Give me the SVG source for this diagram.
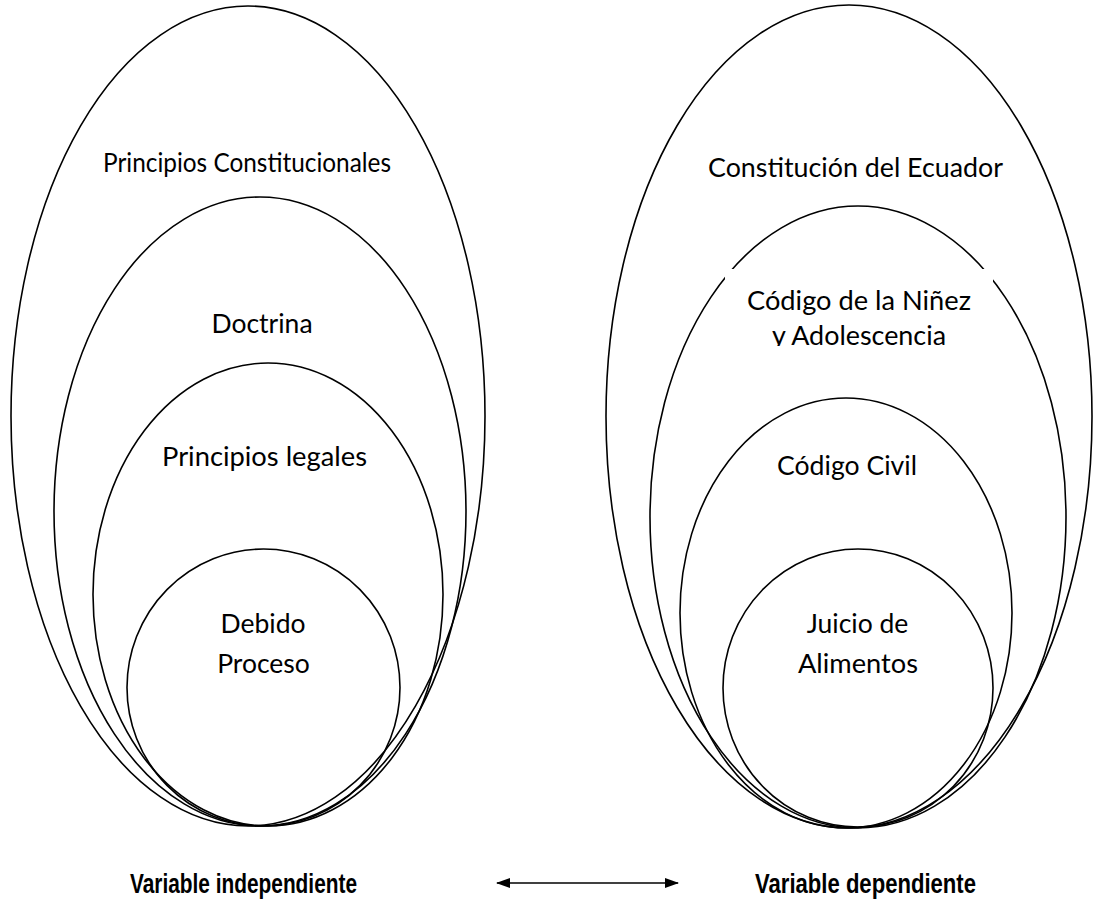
<svg xmlns="http://www.w3.org/2000/svg" width="1111" height="924" viewBox="0 0 1111 924">
<defs>
<style>
.el{fill:none;stroke:#000;stroke-width:1.6}
.t{font-family:Lato,"Liberation Sans",sans-serif;font-size:26.5px;fill:#000;text-anchor:middle}
.b{font-family:"Liberation Sans",Arial,sans-serif;font-size:28px;font-weight:bold;fill:#000;text-anchor:middle}
</style>
<marker id="ah" viewBox="0 0 14 10" refX="13" refY="5" markerWidth="14" markerHeight="10" markerUnits="userSpaceOnUse" orient="auto-start-reverse">
<path d="M0,0 L14,5 L0,10 z" fill="#000"/>
</marker>
<clipPath id="boxclip"><rect x="725" y="269" width="268" height="77"/></clipPath>
</defs>
<rect width="1111" height="924" fill="#fff"/>
<g id="left-group">
<g id="principios-constitucionales">
<ellipse class="el" cx="248" cy="416" rx="237" ry="410"/>
<text class="t" x="247" y="172" textLength="288" lengthAdjust="spacingAndGlyphs">Principios Constitucionales</text>
</g>
<g id="doctrina">
<ellipse class="el" cx="260" cy="511.5" rx="206" ry="314.5"/>
<text class="t" x="262" y="333">Doctrina</text>
</g>
<g id="principios-legales">
<ellipse class="el" cx="268" cy="594.5" rx="175" ry="231.5"/>
<text class="t" x="264.5" y="466" textLength="205" lengthAdjust="spacingAndGlyphs">Principios legales</text>
</g>
<g id="debido-proceso">
<ellipse class="el" cx="263.5" cy="687.5" rx="136.5" ry="138.5"/>
<text class="t" x="263" y="633">Debido</text>
<text class="t" x="263.5" y="673">Proceso</text>
</g>
</g>
<g id="right-group">
<g id="constitucion">
<ellipse class="el" cx="849" cy="416.5" rx="243" ry="411.5"/>
<text class="t" x="855.5" y="177" textLength="295" lengthAdjust="spacingAndGlyphs">Constitución del Ecuador</text>
</g>
<g id="codigo-ninez">
<ellipse class="el" cx="858" cy="517" rx="208" ry="311"/>
<rect x="725" y="269" width="268" height="77" fill="#fff"/>
<g clip-path="url(#boxclip)">
<text class="t" x="859" y="310" textLength="224" lengthAdjust="spacingAndGlyphs">Código de la Niñez</text>
<text class="t" x="859" y="345" textLength="174" lengthAdjust="spacingAndGlyphs">y Adolescencia</text>
</g>
</g>
<g id="codigo-civil">
<ellipse class="el" cx="846" cy="613" rx="166" ry="215"/>
<text class="t" x="847" y="475" textLength="140" lengthAdjust="spacingAndGlyphs">Código Civil</text>
</g>
<g id="juicio-alimentos">
<ellipse class="el" cx="858" cy="688" rx="135" ry="139"/>
<text class="t" x="857.5" y="633">Juicio de</text>
<text class="t" x="858" y="673" textLength="120" lengthAdjust="spacingAndGlyphs">Alimentos</text>
</g>
</g>
<g id="connectors">
<line x1="497" y1="883" x2="678" y2="883" stroke="#000" stroke-width="1.6" marker-start="url(#ah)" marker-end="url(#ah)"/>
</g>
<g id="labels">
<text class="b" x="243.5" y="893" textLength="227" lengthAdjust="spacingAndGlyphs">Variable independiente</text>
<text class="b" x="865.5" y="893" textLength="221" lengthAdjust="spacingAndGlyphs">Variable dependiente</text>
</g>
</svg>
